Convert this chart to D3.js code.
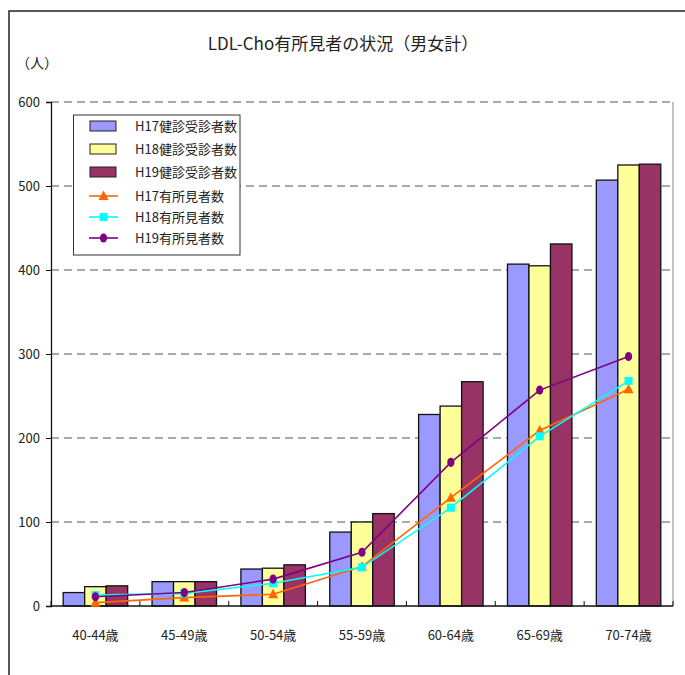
<!DOCTYPE html>
<html>
<head>
<meta charset="utf-8">
<script src="https://cdn.jsdelivr.net/npm/d3@7"></script>
<style>
  html, body { margin: 0; padding: 0; background: #fff; }
  svg { display: block; }
  text { font-family: "Noto Sans CJK JP", "Noto Sans", sans-serif; fill: #222; }
</style>
</head>
<body>
<svg id="chart" width="685" height="675"></svg>
<script>
// Age groups along the x axis
const categories = ["40-44歳", "45-49歳", "50-54歳", "55-59歳", "60-64歳", "65-69歳", "70-74歳"];

// Examinees per year (bars)
const examH17 = [16, 29, 44, 88, 228, 407, 507];
const examH18 = [23, 29, 45, 100, 238, 405, 525];
const examH19 = [24, 29, 49, 110, 267, 431, 526];

// People with findings per year (lines)
const findH17 = [4, 10, 14, 47, 129, 209, 258];
const findH18 = [13, 15, 27, 46, 117, 202, 268];
const findH19 = [11, 16, 32, 64, 171, 257, 297];

const yTicks = [0, 100, 200, 300, 400, 500, 600];

const barSeries = [
  { name: "H17健診受診者数", values: examH17, color: "#9999FF" },
  { name: "H18健診受診者数", values: examH18, color: "#FFFF99" },
  { name: "H19健診受診者数", values: examH19, color: "#993366" }
];
const lineSeries = [
  { name: "H17有所見者数", values: findH17, color: "#FF6600", marker: "triangle" },
  { name: "H18有所見者数", values: findH18, color: "#00FFFF", marker: "square" },
  { name: "H19有所見者数", values: findH19, color: "#800080", marker: "circle" }
];

const svg = d3.select("#chart");
const plot = { left: 51, right: 673, top: 102, bottom: 606 };

// Outer frame (top and left edges)
svg.append("path")
  .attr("d", `M9,675 V11 H685`)
  .attr("fill", "none").attr("stroke", "#222").attr("stroke-width", 1.5);

// Title and unit
svg.append("text").attr("x", 343).attr("y", 50).attr("text-anchor", "middle")
  .attr("font-size", 17).text("LDL-Cho有所見者の状況（男女計）");
svg.append("text").attr("x", 16).attr("y", 68).attr("font-size", 14).text("（人）");

const x0 = d3.scaleBand().domain(categories).range([plot.left, plot.right]).padding(0);
const x1 = d3.scaleBand().domain(barSeries.map(d => d.name))
  .range([0, x0.bandwidth()]).paddingInner(0).paddingOuter(0.567);
const y = d3.scaleLinear().domain([0, 600]).range([plot.bottom, plot.top]);

// Dashed gridlines
svg.append("g").selectAll("line").data(yTicks.filter(v => v > 0)).join("line")
  .attr("x1", plot.left).attr("x2", plot.right)
  .attr("y1", d => y(d)).attr("y2", d => y(d))
  .attr("stroke", "#555").attr("stroke-width", 1).attr("stroke-dasharray", "8,5");

// Right edge of the plot area
svg.append("line").attr("x1", plot.right).attr("x2", plot.right)
  .attr("y1", plot.top).attr("y2", plot.bottom)
  .attr("stroke", "#888").attr("stroke-width", 1);

// Bars
const groups = svg.append("g").selectAll("g").data(categories).join("g")
  .attr("transform", d => `translate(${x0(d)},0)`);
groups.selectAll("rect")
  .data((c, i) => barSeries.map(s => ({ s, v: s.values[i] })))
  .join("rect")
  .attr("x", d => x1(d.s.name))
  .attr("y", d => y(d.v))
  .attr("width", x1.bandwidth())
  .attr("height", d => y(0) - y(d.v))
  .attr("fill", d => d.s.color)
  .attr("stroke", "#111").attr("stroke-width", 1.3);

// Y axis
const yAxis = svg.append("g").attr("transform", `translate(${plot.left},0)`)
  .call(d3.axisLeft(y).tickValues(yTicks).tickSize(5).tickPadding(6));
yAxis.select(".domain").attr("stroke", "#111").attr("stroke-width", 1.3);
yAxis.selectAll(".tick line").attr("stroke", "#111");
yAxis.selectAll("text").attr("font-size", 13).attr("font-family", "Noto Sans CJK JP").attr("fill", "#222");

// X axis: baseline, inward boundary ticks, category labels
svg.append("line").attr("x1", plot.left).attr("x2", plot.right)
  .attr("y1", plot.bottom).attr("y2", plot.bottom)
  .attr("stroke", "#111").attr("stroke-width", 1.5);
const bounds = categories.map(c => x0(c)).concat([plot.right]);
svg.append("g").selectAll("line").data(bounds).join("line")
  .attr("x1", d => d).attr("x2", d => d)
  .attr("y1", plot.bottom).attr("y2", plot.bottom - 5)
  .attr("stroke", "#111").attr("stroke-width", 1);
svg.append("g").selectAll("text").data(categories).join("text")
  .attr("x", d => x0(d) + x0.bandwidth() / 2)
  .attr("y", 640).attr("text-anchor", "middle").attr("font-size", 13)
  .text(d => d);

// Lines with markers
const cx = c => x0(c) + x0.bandwidth() / 2;
const line = d3.line().x((v, i) => cx(categories[i])).y(v => y(v));
function drawMarker(g, type, color) {
  if (type === "triangle") {
    g.append("path").attr("d", "M0,-5.5 L5,4 L-5,4 Z").attr("fill", color);
  } else if (type === "square") {
    g.append("rect").attr("x", -4).attr("y", -4).attr("width", 8).attr("height", 8).attr("fill", color);
  } else {
    g.append("ellipse").attr("rx", 3.6).attr("ry", 4.6).attr("fill", color);
  }
}
lineSeries.forEach(s => {
  svg.append("path").datum(s.values).attr("d", line)
    .attr("fill", "none").attr("stroke", s.color).attr("stroke-width", 1.6);
  s.values.forEach((v, i) => {
    const g = svg.append("g").attr("transform", `translate(${cx(categories[i])},${y(v)})`);
    drawMarker(g, s.marker, s.color);
  });
});

// Legend
const lg = svg.append("g");
lg.append("rect").attr("x", 73.5).attr("y", 115).attr("width", 166.5).attr("height", 140)
  .attr("fill", "#fff").attr("stroke", "#333").attr("stroke-width", 1);
const rowY = [126, 149, 172, 196, 217, 238];
barSeries.forEach((s, i) => {
  lg.append("rect").attr("x", 90).attr("y", rowY[i] - 5).attr("width", 26).attr("height", 10)
    .attr("fill", s.color).attr("stroke", "#222").attr("stroke-width", 1);
});
lineSeries.forEach((s, i) => {
  const yy = rowY[i + 3];
  lg.append("line").attr("x1", 89).attr("x2", 118).attr("y1", yy).attr("y2", yy)
    .attr("stroke", s.color).attr("stroke-width", 1.6);
  const g = lg.append("g").attr("transform", `translate(103.5,${yy})`);
  drawMarker(g, s.marker, s.color);
});
lg.selectAll("text.lab").data(barSeries.concat(lineSeries)).join("text")
  .attr("class", "lab")
  .attr("x", 135).attr("y", (d, i) => rowY[i] + 5)
  .attr("font-size", 13).text(d => d.name);
</script>
</body>
</html>
